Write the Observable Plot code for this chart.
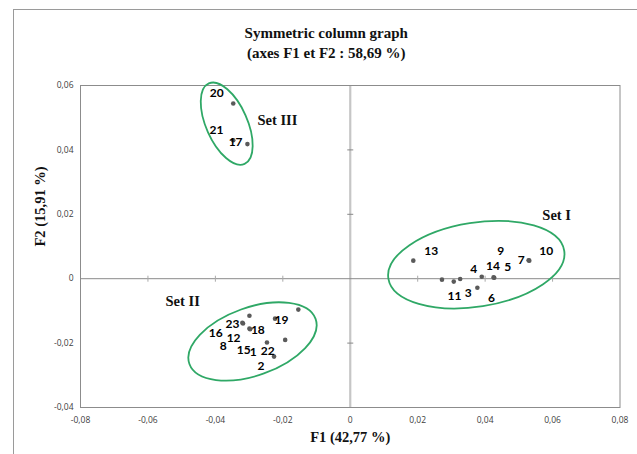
<!DOCTYPE html>
<html>
<head>
<meta charset="utf-8">
<script src="https://cdn.jsdelivr.net/npm/d3@7"></script>
<script src="https://cdn.jsdelivr.net/npm/@observablehq/plot@0.6"></script>
<style>
  html, body { margin: 0; padding: 0; background: #fff; }
  #wrap { position: relative; width: 637px; height: 454px; overflow: hidden; }
  #border { position: absolute; left: 13px; top: 9px; right: -5px; bottom: -5px; border-left: 1px solid #9a9a9a; border-top: 1px solid #9a9a9a; pointer-events: none; }
  svg { display: block; }
</style>
</head>
<body>
<div id="wrap"><div id="chart"></div><div id="border"></div></div>
<script>
// ---- data ----
const ids    = [1, 2, 3, 4, 5, 6, 7, 8, 9, 10, 11, 12, 13, 14, 15, 16, 17, 18, 19, 20, 21, 22, 23];
const f1     = [-0.0247, -0.0226, 0.0307, 0.0326, 0.0427, 0.0377, 0.0529, -0.0318, 0.0425, 0.0531, 0.0272, -0.0299, 0.0187, 0.0390, -0.0297, -0.0320, -0.0305, -0.0223, -0.0154, -0.0347, -0.0347, -0.0193, -0.0299];
const f2     = [-0.0198, -0.0242, -0.0009, -0.0001, 0.0003, -0.0028, 0.0057, -0.0139, 0.0004, 0.0056, -0.0003, -0.0155, 0.0056, 0.0006, -0.0157, -0.0137, 0.0418, -0.0124, -0.0096, 0.0544, 0.0430, -0.0190, -0.0115];
// label anchor positions (data units, as placed in the original chart)
const labelF1 = [-0.0288, -0.0265, 0.0350, 0.0366, 0.0467, 0.0419, 0.0507, -0.0377, 0.0446, 0.0581, 0.0309, -0.0346, 0.0240, 0.0423, -0.0316, -0.0399, -0.0340, -0.0274, -0.0204, -0.0396, -0.0397, -0.0245, -0.0349];
const labelF2 = [-0.0229, -0.0273, -0.0044, 0.0030, 0.0036, -0.0060, 0.0057, -0.0210, 0.0086, 0.0085, -0.0054, -0.0186, 0.0086, 0.0040, -0.0221, -0.0169, 0.0425, -0.0159, -0.0130, 0.0575, 0.0461, -0.0226, -0.0141];

const setNames = ["Set I", "Set II", "Set III"];
const setF1    = [0.0612, -0.0497, -0.0216];
const setF2    = [0.0197, -0.0070, 0.0492];
// group ellipses: centre (data), semi-axes (F1 units), rotation (deg)
const ellCx    = [0.03753, -0.02884, -0.03649];
const ellCy    = [0.0042, -0.01965, 0.0480];
const ellA     = [0.0264, 0.01987, 0.01305];
const ellB     = [0.01246, 0.01008, 0.00611];
const ellAngle = [-9, -19.7, 66];

const xTicks = [-0.08, -0.06, -0.04, -0.02, 0, 0.02, 0.04, 0.06, 0.08];
const yTicks = [-0.04, -0.02, 0, 0.02, 0.04, 0.06];

const titleLines = ["Symmetric column graph", "(axes F1 et F2 : 58,69 %)"];
const xTitle = "F1 (42,77 %)";
const yTitle = "F2 (15,91 %)";

// ---- build ----
const points = ids.map((id, i) => ({id, x: f1[i], y: f2[i], lx: labelF1[i], ly: labelF2[i]}));
const sets = setNames.map((name, i) => ({name, x: setF1[i], y: setF2[i]}));
const ells = setNames.map((name, i) => ({name, cx: ellCx[i], cy: ellCy[i], a: ellA[i], b: ellB[i], angle: ellAngle[i]}));
const fmt = d => d === 0 ? "0" : d.toFixed(2).replace(".", ",");

const vTick = {draw(ctx) { ctx.moveTo(0, -3); ctx.lineTo(0, 3); }};
const hTick = {draw(ctx) { ctx.moveTo(-3, 0); ctx.lineTo(3, 0); }};

function ellipseMark(data) {
  return (index, scales) => {
    const g = d3.create("svg:g");
    const kx = Math.abs(scales.x(1) - scales.x(0));
    for (const d of data) {
      const cx = scales.x(d.cx), cy = scales.y(d.cy);
      g.append("ellipse")
        .attr("cx", cx).attr("cy", cy)
        .attr("rx", d.a * kx).attr("ry", d.b * kx)
        .attr("transform", `rotate(${d.angle} ${cx} ${cy})`)
        .attr("fill", "none").attr("stroke", "#2fa866").attr("stroke-width", 1.8);
    }
    return g.node();
  };
}

const serif = "'Liberation Serif', serif";
const chart = Plot.plot({
  width: 637,
  height: 454,
  marginLeft: 80,
  marginRight: 17.5,
  marginTop: 85,
  marginBottom: 47,
  x: {domain: [-0.08, 0.08], ticks: xTicks, label: null},
  y: {domain: [-0.04, 0.06], ticks: yTicks, label: null},
  style: {fontFamily: "'Open Sans', sans-serif", background: "transparent"},
  marks: [
    Plot.ruleX([0], {stroke: "#c6c6c6", strokeWidth: 2.2}),
    Plot.ruleY([0], {stroke: "#8a8a8a", strokeWidth: 1}),
    Plot.dot(xTicks.filter(d => d !== 0 && Math.abs(d) < 0.08), {x: d => d, y: 0, symbol: vTick, stroke: "#aaaaaa", strokeWidth: 1, r: 3}),
    Plot.dot(yTicks.filter(d => d !== 0 && d > -0.04 && d < 0.06), {x: 0, y: d => d, symbol: hTick, stroke: "#888888", strokeWidth: 1, r: 3}),
    Plot.frame({stroke: "#8c8c8c", strokeWidth: 1}),
    Plot.axisX({ticks: xTicks, tickFormat: fmt, tickSize: 0, tickPadding: 9, fontSize: 8.5, fill: "#404040", label: null}),
    Plot.axisY({ticks: yTicks, tickFormat: fmt, tickSize: 0, tickPadding: 7, fontSize: 8.5, fill: "#404040", label: null}),
    ellipseMark(ells),
    Plot.dot(points, {x: "x", y: "y", r: 2.3, fill: "#5a5a5a"}),
    Plot.text(points, {x: "lx", y: "ly", text: d => String(d.id), fontFamily: "Lato, 'Open Sans', sans-serif", fontWeight: "bold", fontSize: 12, fill: "#000"}),
    Plot.text(sets, {x: "x", y: "y", text: "name", fontFamily: serif, fontWeight: "bold", fontSize: 14.5, fill: "#111"}),
    Plot.text([titleLines[0]], {frameAnchor: "top", dx: -24, dy: -58, text: d => d, fontFamily: serif, fontWeight: "bold", fontSize: 15, fill: "#111"}),
    Plot.text([titleLines[1]], {frameAnchor: "top", dx: -24, dy: -38, text: d => d, fontFamily: serif, fontWeight: "bold", fontSize: 15, fill: "#111"}),
    Plot.text([xTitle], {frameAnchor: "bottom", dy: 34, text: d => d, fontFamily: serif, fontWeight: "bold", fontSize: 14.5, fill: "#111"}),
    Plot.text([yTitle], {frameAnchor: "left", dx: -40, rotate: -90, text: d => d, fontFamily: serif, fontWeight: "bold", fontSize: 14.5, fill: "#111"})
  ]
});
document.getElementById("chart").appendChild(chart);
</script>
</body>
</html>
